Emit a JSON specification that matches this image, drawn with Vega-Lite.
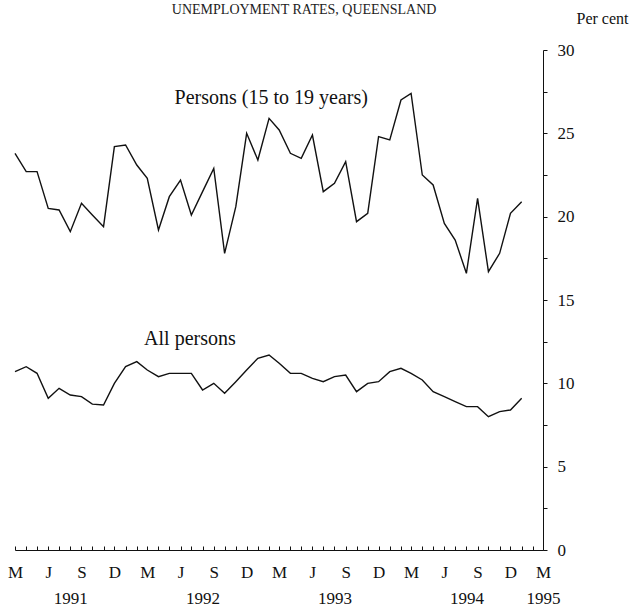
{
  "$schema": "https://vega.github.io/schema/vega-lite/v6.json",
  "width": 528,
  "height": 500,
  "autosize": {"type": "none"},
  "padding": {"left": 15, "top": 50, "right": 88, "bottom": 59},
  "background": "white",
  "config": {"view": {"stroke": null}, "font": "Liberation Serif"},
  "datasets": {
    "rates": [
      {"month": "1991-03-01T00:00:00", "series": "Persons (15 to 19 years)", "rate": 23.8},
      {"month": "1991-04-01T00:00:00", "series": "Persons (15 to 19 years)", "rate": 22.7},
      {"month": "1991-05-01T00:00:00", "series": "Persons (15 to 19 years)", "rate": 22.7},
      {"month": "1991-06-01T00:00:00", "series": "Persons (15 to 19 years)", "rate": 20.5},
      {"month": "1991-07-01T00:00:00", "series": "Persons (15 to 19 years)", "rate": 20.4},
      {"month": "1991-08-01T00:00:00", "series": "Persons (15 to 19 years)", "rate": 19.1},
      {"month": "1991-09-01T00:00:00", "series": "Persons (15 to 19 years)", "rate": 20.8},
      {"month": "1991-10-01T00:00:00", "series": "Persons (15 to 19 years)", "rate": 20.1},
      {"month": "1991-11-01T00:00:00", "series": "Persons (15 to 19 years)", "rate": 19.4},
      {"month": "1991-12-01T00:00:00", "series": "Persons (15 to 19 years)", "rate": 24.2},
      {"month": "1992-01-01T00:00:00", "series": "Persons (15 to 19 years)", "rate": 24.3},
      {"month": "1992-02-01T00:00:00", "series": "Persons (15 to 19 years)", "rate": 23.1},
      {"month": "1992-03-01T00:00:00", "series": "Persons (15 to 19 years)", "rate": 22.3},
      {"month": "1992-04-01T00:00:00", "series": "Persons (15 to 19 years)", "rate": 19.2},
      {"month": "1992-05-01T00:00:00", "series": "Persons (15 to 19 years)", "rate": 21.2},
      {"month": "1992-06-01T00:00:00", "series": "Persons (15 to 19 years)", "rate": 22.2},
      {"month": "1992-07-01T00:00:00", "series": "Persons (15 to 19 years)", "rate": 20.1},
      {"month": "1992-08-01T00:00:00", "series": "Persons (15 to 19 years)", "rate": 21.5},
      {"month": "1992-09-01T00:00:00", "series": "Persons (15 to 19 years)", "rate": 22.9},
      {"month": "1992-10-01T00:00:00", "series": "Persons (15 to 19 years)", "rate": 17.8},
      {"month": "1992-11-01T00:00:00", "series": "Persons (15 to 19 years)", "rate": 20.6},
      {"month": "1992-12-01T00:00:00", "series": "Persons (15 to 19 years)", "rate": 25.0},
      {"month": "1993-01-01T00:00:00", "series": "Persons (15 to 19 years)", "rate": 23.4},
      {"month": "1993-02-01T00:00:00", "series": "Persons (15 to 19 years)", "rate": 25.9},
      {"month": "1993-03-01T00:00:00", "series": "Persons (15 to 19 years)", "rate": 25.2},
      {"month": "1993-04-01T00:00:00", "series": "Persons (15 to 19 years)", "rate": 23.8},
      {"month": "1993-05-01T00:00:00", "series": "Persons (15 to 19 years)", "rate": 23.5},
      {"month": "1993-06-01T00:00:00", "series": "Persons (15 to 19 years)", "rate": 24.9},
      {"month": "1993-07-01T00:00:00", "series": "Persons (15 to 19 years)", "rate": 21.5},
      {"month": "1993-08-01T00:00:00", "series": "Persons (15 to 19 years)", "rate": 22.0},
      {"month": "1993-09-01T00:00:00", "series": "Persons (15 to 19 years)", "rate": 23.3},
      {"month": "1993-10-01T00:00:00", "series": "Persons (15 to 19 years)", "rate": 19.7},
      {"month": "1993-11-01T00:00:00", "series": "Persons (15 to 19 years)", "rate": 20.2},
      {"month": "1993-12-01T00:00:00", "series": "Persons (15 to 19 years)", "rate": 24.8},
      {"month": "1994-01-01T00:00:00", "series": "Persons (15 to 19 years)", "rate": 24.6},
      {"month": "1994-02-01T00:00:00", "series": "Persons (15 to 19 years)", "rate": 27.0},
      {"month": "1994-03-01T00:00:00", "series": "Persons (15 to 19 years)", "rate": 27.4},
      {"month": "1994-04-01T00:00:00", "series": "Persons (15 to 19 years)", "rate": 22.5},
      {"month": "1994-05-01T00:00:00", "series": "Persons (15 to 19 years)", "rate": 21.9},
      {"month": "1994-06-01T00:00:00", "series": "Persons (15 to 19 years)", "rate": 19.6},
      {"month": "1994-07-01T00:00:00", "series": "Persons (15 to 19 years)", "rate": 18.6},
      {"month": "1994-08-01T00:00:00", "series": "Persons (15 to 19 years)", "rate": 16.6},
      {"month": "1994-09-01T00:00:00", "series": "Persons (15 to 19 years)", "rate": 21.1},
      {"month": "1994-10-01T00:00:00", "series": "Persons (15 to 19 years)", "rate": 16.7},
      {"month": "1994-11-01T00:00:00", "series": "Persons (15 to 19 years)", "rate": 17.8},
      {"month": "1994-12-01T00:00:00", "series": "Persons (15 to 19 years)", "rate": 20.2},
      {"month": "1995-01-01T00:00:00", "series": "Persons (15 to 19 years)", "rate": 20.9},
      {"month": "1991-03-01T00:00:00", "series": "All persons", "rate": 10.7},
      {"month": "1991-04-01T00:00:00", "series": "All persons", "rate": 11.0},
      {"month": "1991-05-01T00:00:00", "series": "All persons", "rate": 10.6},
      {"month": "1991-06-01T00:00:00", "series": "All persons", "rate": 9.1},
      {"month": "1991-07-01T00:00:00", "series": "All persons", "rate": 9.7},
      {"month": "1991-08-01T00:00:00", "series": "All persons", "rate": 9.3},
      {"month": "1991-09-01T00:00:00", "series": "All persons", "rate": 9.2},
      {"month": "1991-10-01T00:00:00", "series": "All persons", "rate": 8.75},
      {"month": "1991-11-01T00:00:00", "series": "All persons", "rate": 8.7},
      {"month": "1991-12-01T00:00:00", "series": "All persons", "rate": 10.0},
      {"month": "1992-01-01T00:00:00", "series": "All persons", "rate": 11.0},
      {"month": "1992-02-01T00:00:00", "series": "All persons", "rate": 11.3},
      {"month": "1992-03-01T00:00:00", "series": "All persons", "rate": 10.8},
      {"month": "1992-04-01T00:00:00", "series": "All persons", "rate": 10.4},
      {"month": "1992-05-01T00:00:00", "series": "All persons", "rate": 10.6},
      {"month": "1992-06-01T00:00:00", "series": "All persons", "rate": 10.6},
      {"month": "1992-07-01T00:00:00", "series": "All persons", "rate": 10.6},
      {"month": "1992-08-01T00:00:00", "series": "All persons", "rate": 9.6},
      {"month": "1992-09-01T00:00:00", "series": "All persons", "rate": 10.0},
      {"month": "1992-10-01T00:00:00", "series": "All persons", "rate": 9.4},
      {"month": "1992-11-01T00:00:00", "series": "All persons", "rate": 10.1},
      {"month": "1992-12-01T00:00:00", "series": "All persons", "rate": 10.8},
      {"month": "1993-01-01T00:00:00", "series": "All persons", "rate": 11.5},
      {"month": "1993-02-01T00:00:00", "series": "All persons", "rate": 11.7},
      {"month": "1993-03-01T00:00:00", "series": "All persons", "rate": 11.2},
      {"month": "1993-04-01T00:00:00", "series": "All persons", "rate": 10.6},
      {"month": "1993-05-01T00:00:00", "series": "All persons", "rate": 10.6},
      {"month": "1993-06-01T00:00:00", "series": "All persons", "rate": 10.3},
      {"month": "1993-07-01T00:00:00", "series": "All persons", "rate": 10.1},
      {"month": "1993-08-01T00:00:00", "series": "All persons", "rate": 10.4},
      {"month": "1993-09-01T00:00:00", "series": "All persons", "rate": 10.5},
      {"month": "1993-10-01T00:00:00", "series": "All persons", "rate": 9.5},
      {"month": "1993-11-01T00:00:00", "series": "All persons", "rate": 10.0},
      {"month": "1993-12-01T00:00:00", "series": "All persons", "rate": 10.1},
      {"month": "1994-01-01T00:00:00", "series": "All persons", "rate": 10.7},
      {"month": "1994-02-01T00:00:00", "series": "All persons", "rate": 10.9},
      {"month": "1994-03-01T00:00:00", "series": "All persons", "rate": 10.6},
      {"month": "1994-04-01T00:00:00", "series": "All persons", "rate": 10.2},
      {"month": "1994-05-01T00:00:00", "series": "All persons", "rate": 9.5},
      {"month": "1994-06-01T00:00:00", "series": "All persons", "rate": 9.2},
      {"month": "1994-07-01T00:00:00", "series": "All persons", "rate": 8.9},
      {"month": "1994-08-01T00:00:00", "series": "All persons", "rate": 8.6},
      {"month": "1994-09-01T00:00:00", "series": "All persons", "rate": 8.6},
      {"month": "1994-10-01T00:00:00", "series": "All persons", "rate": 8.0},
      {"month": "1994-11-01T00:00:00", "series": "All persons", "rate": 8.3},
      {"month": "1994-12-01T00:00:00", "series": "All persons", "rate": 8.4},
      {"month": "1995-01-01T00:00:00", "series": "All persons", "rate": 9.1}
    ],
    "labels": [
      {"month": "1993-02-07T00:00:00", "rate": 26.75, "label": "Persons (15 to 19 years)", "kind": "series"},
      {"month": "1992-06-27T00:00:00", "rate": 12.3, "label": "All persons", "kind": "series"},
      {"month": "1993-05-09T00:00:00", "rate": 32.15, "label": "UNEMPLOYMENT RATES, QUEENSLAND", "kind": "title"}
    ]
  },
  "layer": [
    {
      "data": {"name": "rates"},
      "mark": {"type": "line", "color": "#111", "strokeWidth": 1.4},
      "encoding": {
        "x": {
          "field": "month",
          "type": "temporal",
          "scale": {"domain": [{"year": 1991, "month": 3, "date": 1}, {"year": 1995, "month": 3, "date": 1}]},
          "axis": {
            "orient": "bottom",
            "title": null,
            "grid": false,
            "tickCount": {"interval": "month", "step": 1},
            "tickSize": -4,
            "tickColor": "#111",
            "domainColor": "#111",
            "labelPadding": 18,
            "labelFlush": false,
            "labelOverlap": false,
            "labelAngle": 0,
            "labelBaseline": "top",
            "labelFont": "Liberation Serif",
            "labelFontSize": 17,
            "labelColor": "#111",
            "labelLineHeight": 26,
            "labelExpr": "year(datum.value) == 1995 && month(datum.value) == 2 ? ['M', '1995'] : (month(datum.value) == 7 ? ['', toString(year(datum.value))] : (month(datum.value) % 3 == 2 ? substring(timeFormat(datum.value, '%b'), 0, 1) : ''))"
          }
        },
        "y": {
          "field": "rate",
          "type": "quantitative",
          "scale": {"domain": [0, 30], "nice": false, "zero": false},
          "axis": {
            "orient": "right",
            "grid": false,
            "values": [0, 2.5, 5, 7.5, 10, 12.5, 15, 17.5, 20, 22.5, 25, 27.5, 30],
            "labelExpr": "datum.value % 5 == 0 ? datum.label : ''",
            "tickSize": 4,
            "tickColor": "#111",
            "domainColor": "#111",
            "labelPadding": 10,
            "labelFont": "Liberation Serif",
            "labelFontSize": 17,
            "labelColor": "#111",
            "labelOverlap": false,
            "labelBaseline": "middle",
            "title": "Per cent",
            "titleAngle": 0,
            "titleAlign": "left",
            "titleBaseline": "alphabetic",
            "titleX": 33,
            "titleY": -27,
            "titleFont": "Liberation Serif",
            "titleFontSize": 16,
            "titleFontWeight": "normal",
            "titleColor": "#111"
          }
        },
        "detail": {"field": "series", "type": "nominal"}
      }
    },
    {
      "data": {"name": "labels"},
      "transform": [{"filter": "datum.kind == 'series'"}],
      "mark": {"type": "text", "font": "Liberation Serif", "fontSize": 20, "color": "#111", "align": "center", "baseline": "alphabetic"},
      "encoding": {
        "x": {"field": "month", "type": "temporal"},
        "y": {"field": "rate", "type": "quantitative"},
        "text": {"field": "label"}
      }
    },
    {
      "data": {"name": "labels"},
      "transform": [{"filter": "datum.kind == 'title'"}],
      "mark": {"type": "text", "font": "Liberation Serif", "fontSize": 14, "color": "#222", "align": "center", "baseline": "alphabetic"},
      "encoding": {
        "x": {"field": "month", "type": "temporal"},
        "y": {"field": "rate", "type": "quantitative"},
        "text": {"field": "label"}
      }
    }
  ]
}
